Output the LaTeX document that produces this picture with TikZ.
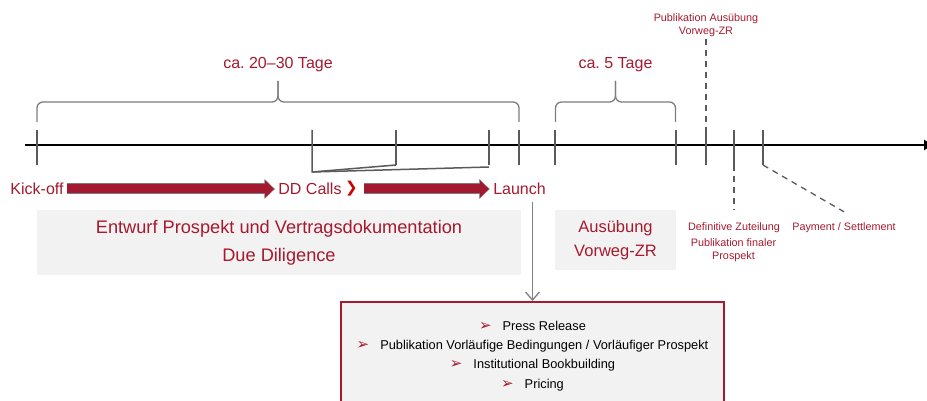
\documentclass[tikz,border=0pt]{standalone}
\usepackage{fontspec}
\setmainfont{Liberation Sans}
\newfontfamily\symbolfont{DejaVu Sans}
\usetikzlibrary{arrows.meta,decorations.markings,positioning,calc}

\definecolor{brandred}{RGB}{166,25,46}
\definecolor{arrowfill}{RGB}{163,26,48}
\definecolor{tickgray}{RGB}{90,90,90}
\definecolor{bracegray}{RGB}{125,125,125}
\definecolor{boxgray}{RGB}{242,242,242}
\definecolor{chevred}{RGB}{204,0,0}

\newcommand{\itemarrow}{{\color{brandred}\symbolfont\fontsize{15}{12}\selectfont ➢}\hspace{11pt}}

\begin{document}
\begin{tikzpicture}[x=1pt, y=-1pt]
\tikzstyle{milestone}=[font=\fontsize{16}{19}\selectfont, text=brandred, inner sep=3pt]
\tikzstyle{duration}=[font=\fontsize{16}{19}\selectfont, text=brandred]
\tikzstyle{phase}=[fill=boxgray, text=brandred, align=center, inner sep=0pt]
\tikzstyle{note}=[font=\fontsize{10.8}{13}\selectfont, text=brandred, align=center, inner sep=2pt]
\tikzstyle{tickmark}=[draw=tickgray, line width=1.5pt]
\tikzstyle{spanbrace}=[draw=bracegray, line width=1.3pt, rounded corners=6pt]
\tikzstyle{leader}=[draw=tickgray, line width=1.3pt, dash pattern=on 6pt off 5pt]
\tikzstyle{flowarrow}=[draw=tickgray!80, line width=1pt, double=arrowfill, double distance=9pt, shorten >=10pt, decoration={markings, mark=at position 1 with {\arrow{Triangle[length=11pt, width=21pt, fill=arrowfill, color=tickgray!80, line width=1pt]}}}, preaction={decorate}]

\useasboundingbox (0,0) rectangle (927,401);

% time axis and milestones on it
\draw[line width=2pt, -{Triangle[length=9pt, width=10pt]}] (25,145) -- (933,145);
\foreach \n/\x in {kickoff/37, ddA/396, ddB/489, launchT/519, exA/555, exB/676, pubT/706, allocT/734, settleT/763}
  \draw[tickmark] (\x,130) coordinate (\n-top) -- (\x,165) coordinate (\n-bot);
\draw[tickmark, line join=round] (312,130) -- (312,172) -- (396,165);
\draw[tickmark] (312,172) -- (489,167);

% durations
\draw[spanbrace] (37,122) -- (37,102) -- (278,102) -- (278,81);
\draw[spanbrace] (278,81) -- (278,102) -- (519,102) -- (519,122);
\node[duration] (longspan) at (278,65) {ca.\ 20--30 Tage};
\draw[spanbrace] (555.5,122) -- (555.5,102) -- (615.5,102) -- (615.5,81);
\draw[spanbrace] (615.5,81) -- (615.5,102) -- (675.5,102) -- (675.5,122);
\node[duration] (shortspan) at (615.5,65) {ca.\ 5 Tage};

% process steps
\node[milestone] (kick) at (37,189) {Kick-off};
\node[milestone] (dd) at (310,189) {DD Calls};
\node[text=chevred, font=\symbolfont\fontsize{15}{15}\selectfont, inner sep=1pt] (chev) at (351.5,189) {❯};
\node[milestone] (launch) at (519.5,189) {Launch};
\draw[flowarrow] (kick) -- (dd);
\draw[flowarrow, shorten <=5pt] (chev) -- (launch);

\node[phase, font=\fontsize{18.2}{28}\selectfont, minimum width=484pt, minimum height=65pt] (drafting) at (279,242.5) {Entwurf Prospekt und Vertragsdokumentation\\Due Diligence};
\node[phase, font=\fontsize{16.5}{24}\selectfont, minimum width=121pt, minimum height=60pt] (exercise) at (615.5,240) {Ausübung\\Vorweg-ZR};

% launch activities
\node[draw=brandred, line width=2pt, fill=boxgray, minimum width=383pt, anchor=north, inner ysep=19pt, align=center, font=\fontsize{12.8}{19.3}\selectfont] (tasks) at (532.5,301) {\itemarrow Press Release\\ \itemarrow Publikation Vorläufige Bedingungen / Vorläufiger Prospekt\\ \itemarrow Institutional Bookbuilding\\ \itemarrow Pricing};
\draw[draw=gray, line width=1.3pt, shorten <=4pt, -{Straight Barb[length=8pt, width=14pt]}] (tasks.north |- launch.south) -- (tasks.north);

% notes next to the axis
\node[note] (pubnote) at (706,25) {Publikation Ausübung\\Vorweg-ZR};
\draw[leader] (pubnote) -- (pubT-top);
\node[note] (allocnote) at (734,228) {Definitive Zuteilung};
\node[note] (finalnote) at (733.5,250.5) {Publikation finaler\\Prospekt};
\draw[leader] (allocT-bot) -- ($(allocnote.north)+(0,-11)$);
\node[note] (settlenote) at (844,228) {Payment / Settlement};
\draw[leader] (settleT-bot) -- ($(settlenote.north)+(0,-9)$);

\end{tikzpicture}
\end{document}
